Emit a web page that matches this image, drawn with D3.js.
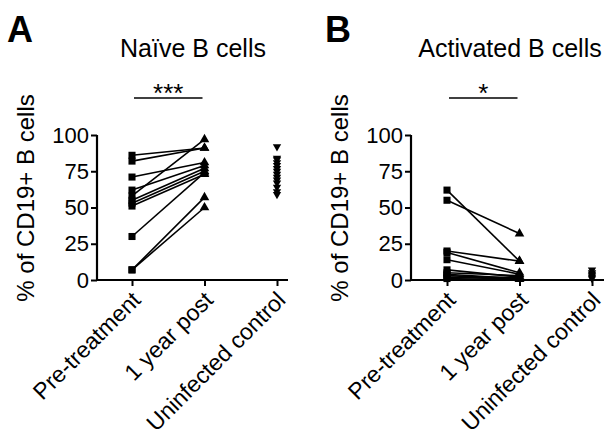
<!DOCTYPE html>
<html><head><meta charset="utf-8">
<script src="https://cdn.jsdelivr.net/npm/d3@7"></script>
<style>body{margin:0;background:#fff}svg{display:block}text{font-family:"Liberation Sans",Arial,sans-serif}</style>
</head><body><svg id="c" width="608" height="444"></svg>
<script>
const categories = ["Pre-treatment", "1 year post", "Uninfected control"];
const yTicks = [0, 25, 50, 75, 100];
const naivePre  = [86, 82, 71, 62, 58, 55, 53, 51, 30, 7, 7];
const naivePost = [91, 91, 81, 79, 97, 77, 75, 73, 74, 57, 50];
const naiveCtrl = [92, 84, 83, 81, 79, 77, 75, 73, 71, 69, 67, 64, 61, 59];
const actPre  = [62, 55, 20, 19, 14, 7, 5, 4, 3, 2, 1];
const actPost = [13, 32, 13, 5, 4, 2, 3, 1, 1, 0.5, 2];
const actCtrl = [7, 5, 4, 3, 2, 1];

const svg = d3.select("#c");
const panels = [
  {letter:"A", title:"Naïve B cells", pre:naivePre, post:naivePost, ctrl:naiveCtrl, stars:"***",
   ax:97, xr:[132,277], xend:288, lx:34, tx:193, lettx:7},
  {letter:"B", title:"Activated B cells", pre:actPre, post:actPost, ctrl:actCtrl, stars:"*",
   ax:411, xr:[447,592], xend:604, lx:348, tx:510, lettx:325}
];
const y = d3.scaleLinear().domain([0,100]).range([280,135]);

panels.forEach(p => {
  const g = svg.append("g");
  const x = d3.scalePoint().domain(categories).range(p.xr);
  g.append("text").attr("x", p.lettx).attr("y", 42).attr("font-size", 36).attr("font-weight", "bold").text(p.letter);
  g.append("text").attr("x", p.tx).attr("y", 57).attr("text-anchor","middle").attr("font-size", 25).text(p.title);
  const ya = g.append("g").attr("transform", `translate(${p.ax},0)`)
    .call(d3.axisLeft(y).tickValues(yTicks).tickSize(6).tickPadding(2));
  ya.select(".domain").attr("stroke-width", 2.2).attr("d", `M0,${y(100)}V${y(0)+1}`);
  ya.selectAll(".tick line").attr("stroke-width", 2);
  ya.selectAll(".tick text").attr("font-size", 22).attr("fill","#000");
  const xa = g.append("g").attr("transform", `translate(0,${y(0)})`)
    .call(d3.axisBottom(x).tickSize(6).tickPadding(6));
  xa.select(".domain").attr("stroke-width", 2.2).attr("d", `M${p.ax-1},0H${p.xend}`);
  xa.selectAll(".tick line").attr("stroke-width", 2);
  xa.selectAll(".tick text").attr("font-size", 23).attr("fill","#000")
    .attr("text-anchor","end").attr("dy", null)
    .attr("transform", "translate(1,13) rotate(-45)");
  g.append("text").attr("transform", `translate(${p.lx},198) rotate(-90)`)
    .attr("text-anchor","middle").attr("font-size", 24).text("% of CD19+ B cells");
  const x0 = x(categories[0]), x1 = x(categories[1]);
  g.append("line").attr("x1", x0+2).attr("x2", x1-2).attr("y1", 98).attr("y2", 98).attr("stroke","#000").attr("stroke-width",1.5);
  g.append("text").attr("x", (x0+x1)/2).attr("y", 102).attr("text-anchor","middle").attr("font-size", 26).text(p.stars);
  p.pre.forEach((v,i) => {
    g.append("line").attr("x1", x0).attr("y1", y(v)).attr("x2", x1).attr("y2", y(p.post[i]))
      .attr("stroke","#000").attr("stroke-width",1.6);
  });
  const sq = d3.symbol().type(d3.symbolSquare).size(50);
  const tri = d3.symbol().type(d3.symbolTriangle).size(40);
  const tri2 = d3.symbol().type(d3.symbolTriangle).size(30);
  p.pre.forEach(v => g.append("path").attr("d", sq()).attr("transform", `translate(${x0},${y(v)})`));
  p.post.forEach(v => g.append("path").attr("d", tri()).attr("transform", `translate(${x1},${y(v)})`));
  const x2 = x(categories[2]);
  p.ctrl.forEach(v => g.append("path").attr("d", tri2()).attr("transform", `translate(${x2},${y(v)}) rotate(180)`));
});
</script></body></html>
